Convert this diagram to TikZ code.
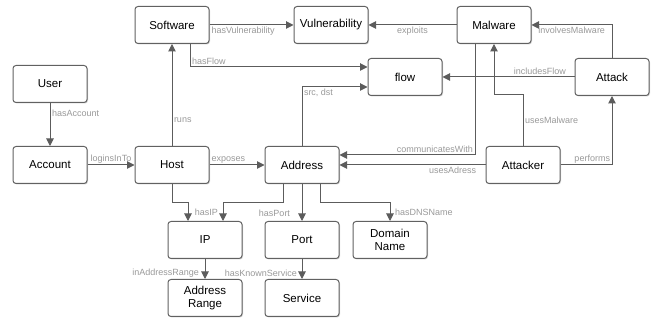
\documentclass[tikz,border=0pt]{standalone}
\usepackage{fontspec}
\setmainfont{Liberation Sans}
\usetikzlibrary{arrows.meta,calc,shadows}
\definecolor{BoxClr}{rgb}{0.38,0.38,0.38}
\definecolor{EdgeClr}{rgb}{0.36,0.36,0.36}
\definecolor{LblClr}{rgb}{0.6,0.6,0.6}

\begin{document}
\begin{tikzpicture}[x=1pt,y=-1pt,
  Box/.style={draw=BoxClr,line width=1pt,fill=white,rounded corners=3pt,
    minimum width=74pt,minimum height=37pt,align=center,
    font=\fontsize{11.5}{13}\selectfont,
    drop shadow={shadow xshift=1pt,shadow yshift=-1pt,opacity=0.35}},
  Edge/.style={draw=EdgeClr,line width=1pt,-{Triangle[length=7.5pt,width=7.5pt]}},
  Lbl/.style={text=LblClr,font=\fontsize{9}{10}\selectfont,inner sep=1.5pt}]
\useasboundingbox (0,0) rectangle (654,320);

\node[Box] (Software) at (172,25) {Software};
\node[Box] (Vulnerability) at (331,25) {Vulnerability};
\node[Box] (Malware) at (494,25) {Malware};
\node[Box] (User) at (50,84) {User};
\node[Box] (Flow) at (405,77) {flow};
\node[Box] (Attack) at (612,77) {Attack};
\node[Box] (Account) at (50,165) {Account};
\node[Box] (Host) at (172,165) {Host};
\node[Box] (Address) at (302,165) {Address};
\node[Box] (Attacker) at (523,165) {Attacker};
\node[Box] (IP) at (205,240) {IP};
\node[Box] (Port) at (302,240) {Port};
\node[Box] (DomainName) at (390,240) {Domain\\Name};
\node[Box] (AddressRange) at (205,298) {Address\\Range};
\node[Box] (Service) at (302,298) {Service};

\draw[Edge] (Software) -- node[Lbl,below right,pos=0]{hasVulnerability} (Vulnerability);
\draw[Edge] (Malware) -- node[Lbl,below]{exploits} (Vulnerability);
\draw[Edge] ($(Software.south)+(18,0)$) |- node[Lbl,above right,pos=0.5]{hasFlow} ($(Flow.west)+(0,-10)$);
\draw[Edge] (Address.north) |- node[Lbl,below right,pos=0.5]{src, dst} ($(Flow.west)+(0,10)$);
\draw[Edge] (Attack) -- node[Lbl,above left,pos=0.05]{includesFlow} (Flow);
\draw[Edge] (Attack.north) |- node[Lbl,below,pos=0.75]{involvesMalware} (Malware.east);
\draw[Edge] ($(Malware.south)+(-19,0)$) |- node[Lbl,above left,pos=0.5]{communicatesWith} ($(Address.east)+(0,-10)$);
\draw[Edge] (Attacker.north) -- node[Lbl,right]{usesMalware} ++(0,-51) -| (Malware.south);
\draw[Edge] (Attacker) -- node[Lbl,below left,pos=0.05]{usesAdress} (Address);
\draw[Edge] (Attacker) -| node[Lbl,above left,pos=0.5]{performs} (Attack);

\draw[Edge] (User) -- node[Lbl,right,pos=0.25]{hasAccount} (Account);
\draw[Edge] (Account) -- node[Lbl,above]{loginsInTo} (Host);
\draw[Edge] (Host) -- node[Lbl,right,pos=0.25]{runs} (Software);
\draw[Edge] (Host) -- node[Lbl,above right,pos=0]{exposes} (Address);
\draw[Edge] (Host.south) -- ++(0,19) -| ($(IP.north)+(-17,0)$);
\draw[Edge] ($(Address.south)+(-19,0)$) -- ++(0,19) -| node[Lbl,left=3pt,pos=0.75]{hasIP} ($(IP.north)+(18,0)$);
\draw[Edge] (Address) -- node[Lbl,left=10pt,pos=0.79]{hasPort} (Port);
\draw[Edge] ($(Address.south)+(18,0)$) -- ++(0,19) -| node[Lbl,right=3pt,pos=0.75]{hasDNSName} (DomainName.north);
\draw[Edge] (IP) -- node[Lbl,left=4pt,pos=0.73]{inAddressRange} (AddressRange);
\draw[Edge] (Port) -- node[Lbl,left=3pt,pos=0.73]{hasKnownService} (Service);

\end{tikzpicture}
\end{document}
